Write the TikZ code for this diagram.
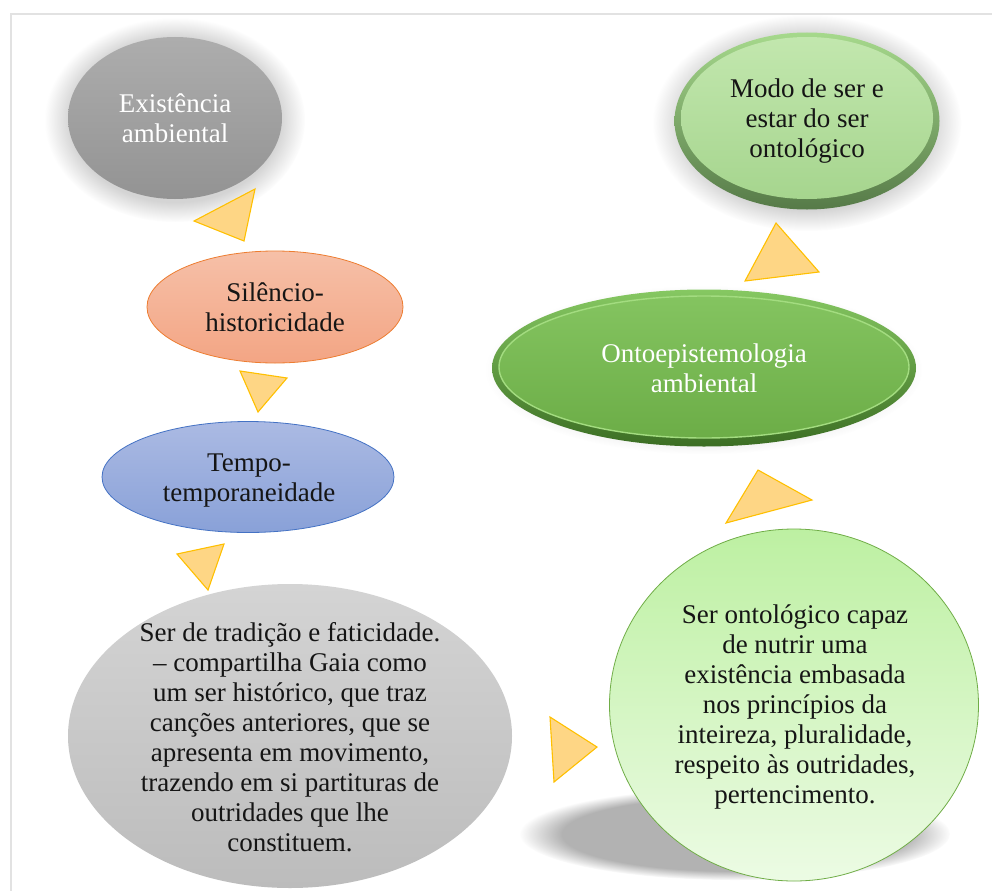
\documentclass[tikz,border=0pt]{standalone}
\usepackage{fontspec}
\setmainfont{Liberation Serif}
\usetikzlibrary{shapes.geometric,fadings}
\definecolor{frameC}{HTML}{E2E2E2}
\definecolor{triFill}{HTML}{FED685}
\definecolor{triDraw}{HTML}{FFC000}
\definecolor{exTop}{HTML}{ADADAD}
\definecolor{exBot}{HTML}{939393}
\definecolor{siTop}{HTML}{F6C0A8}
\definecolor{siBot}{HTML}{F3A584}
\definecolor{siDraw}{HTML}{ED7D31}
\definecolor{teTop}{HTML}{ABBAE3}
\definecolor{teBot}{HTML}{89A1D8}
\definecolor{teDraw}{HTML}{4472C4}
\definecolor{grTop}{HTML}{D4D4D4}
\definecolor{grBot}{HTML}{BCBCBC}
\definecolor{ciTop}{HTML}{BDF0A2}
\definecolor{ciBot}{HTML}{ECFBE4}
\definecolor{ciDraw}{HTML}{70AD47}
\definecolor{moRimTop}{HTML}{A6D98C}
\definecolor{moRimBot}{HTML}{567A48}
\definecolor{moTop}{HTML}{C2E7AE}
\definecolor{moBot}{HTML}{A6D58E}
\definecolor{onRimTop}{HTML}{86C862}
\definecolor{onRimBot}{HTML}{3C6E24}
\definecolor{onTop}{HTML}{84C460}
\definecolor{onBot}{HTML}{6CAD47}
\definecolor{onLine}{HTML}{A3DC80}
\definecolor{txt}{HTML}{151515}
\begin{document}
\begin{tikzpicture}[x=1pt,y=-1pt,
  bubble/.style={ellipse, inner sep=0pt},
  label/.style={align=center, font=\fontsize{27}{30}\selectfont, text=txt, inner sep=0pt},
  wlabel/.style={label, text=white},
  tri/.style={fill=triFill, draw=triDraw, line width=1.1pt, line join=miter},
  glow/.style={fill=black!17, path fading=circle with fuzzy edge 20 percent}]
\useasboundingbox (0,0) rectangle (992,891);
\fill[white] (0,0) rectangle (992,891);
\draw[frameC, line width=2pt] (11,891) -- (11,14) -- (992,14);

% glows and shadow
\path[glow] (175,120) ellipse (130 and 102);
\path[glow] (807,123) ellipse (154 and 108);
\path[fill=black!8, path fading=circle with fuzzy edge 20 percent] (704,370) ellipse (218 and 84);
\path[fill=black!30, path fading=circle with fuzzy edge 20 percent] (735,834) ellipse (215 and 46);

% bubbles
\node[bubble, minimum width=214pt, minimum height=162pt, top color=exTop, bottom color=exBot] (exist) at (175,118) {};
\node[wlabel] (existT) at (exist.center) {Existência\\ambiental};

\node[bubble, minimum width=265pt, minimum height=177pt, top color=moRimTop, bottom color=moRimBot] (modo) at (807,121) {};
\node[bubble, minimum width=252pt, minimum height=162pt, top color=moTop, bottom color=moBot] (modoIn) at (807,118) {};
\node[label] (modoT) at (807,121) {Modo de ser e\\estar do ser\\ontológico};

\node[bubble, minimum width=256pt, minimum height=112pt, top color=siTop, bottom color=siBot, draw=siDraw, line width=0.8pt] (sil) at (275,307) {};
\node[label] (silT) at (275,307) {Silêncio-\\historicidade};

\node[bubble, minimum width=292pt, minimum height=111pt, top color=teTop, bottom color=teBot, draw=teDraw, line width=0.8pt] (tem) at (248,477) {};
\node[label] (temT) at (249,481) {Tempo-\\temporaneidade};

\node[bubble, minimum width=424pt, minimum height=157pt, top color=onRimTop, bottom color=onRimBot] (onto) at (704,368) {};
\node[bubble, minimum width=410pt, minimum height=142pt, top color=onTop, bottom color=onBot, draw=onLine, line width=1.4pt] (ontoIn) at (704,367) {};
\node[wlabel] (ontoT) at (704,368) {Ontoepistemologia\\ambiental};

\node[bubble, minimum width=444pt, minimum height=304pt, top color=grTop, bottom color=grBot] (trad) at (290,736) {};
\node[label] (tradT) at (290,737) {Ser de tradição e faticidade.\\– compartilha Gaia como\\um ser histórico, que traz\\canções anteriores, que se\\apresenta em movimento,\\trazendo em si partituras de\\outridades que lhe\\constituem.};

\node[bubble, minimum width=369pt, minimum height=352pt, top color=ciTop, bottom color=ciBot, draw=ciDraw, line width=0.8pt] (ser) at (794,705) {};
\node[label] (serT) at (795,707) {Ser ontológico capaz\\de nutrir uma\\existência embasada\\nos princípios da\\inteireza, pluralidade,\\respeito às outridades,\\pertencimento.};

% triangular connectors
\draw[tri] (194,221) -- (255,189) -- (244,241) -- cycle;
\draw[tri] (240,371) -- (287,378) -- (258,412) -- cycle;
\draw[tri] (177,554) -- (224,544) -- (208,590) -- cycle;
\draw[tri] (550,717) -- (597,747) -- (554,782) -- cycle;
\draw[tri] (758,470) -- (812,500) -- (726,523) -- cycle;
\draw[tri] (776,223) -- (819,272) -- (745,281) -- cycle;
\end{tikzpicture}
\end{document}
